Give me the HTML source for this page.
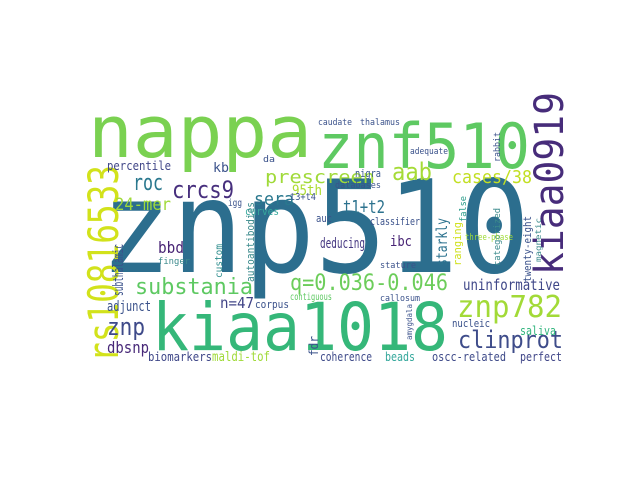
<!DOCTYPE html>
<html><head><meta charset="utf-8"><style>
html,body{margin:0;padding:0;background:#fff;}
svg{display:block;}
text{font-family:"DejaVu Sans Mono","Liberation Mono",monospace;}
</style></head><body>
<svg width="640" height="480" viewBox="0 0 640 480" xmlns="http://www.w3.org/2000/svg">
<rect x="0" y="0" width="640" height="480" fill="#fff"/>
<g id="words"></g>
<script>
// [text, x, y, fontSize, textLength, color, rotated]
const words = [
 ["znp510",100,272,128,430,"#2c6e8e",0],
 ["nappa",88,157,72,224,"#7ad151",0],
 ["znf510",318,168,62,212,"#5ec962",0],
 ["kiaa1018",152,350,66,296,"#35b779",0],
 ["rs10816533",118,362,42,197,"#d2e21b",1],
 ["kiaa0919",563,275,40,183,"#472c7a",1],
 ["znp782",457,317,30,105,"#a2da37",0],
 ["clinprot",458,348,24,105,"#3e4c8a",0],
 ["q=0.036-0.046",290,290,22,158,"#6ccd5a",0],
 ["substania",135,294,22,118,"#5ec962",0],
 ["crcs9",172,198,24,62,"#472f7d",0],
 ["roc",133,190,22,30,"#2a788e",0],
 ["aab",392,180,24,40,"#a5db36",0],
 ["prescreen",265,183,18,110,"#a0da39",0],
 ["sera",254,205,18,40,"#2a788e",0],
 ["95th",292,195,14,30,"#addc30",0],
 ["24-mer",115,210,17,56,"#a0da39",0],
 ["percentile",107,170,12,64,"#404688",0],
 ["kb",213,172,13,16,"#3b528b",0],
 ["cases/38",452,183,18,80,"#c2df23",0],
 ["znp",107,335,24,38,"#3e4a89",0],
 ["dbsnp",107,353,16,42,"#472878",0],
 ["adjunct",107,311,14,44,"#3b528b",0],
 ["n=47",220,308,15,34,"#414487",0],
 ["bbd",158,253,16,26,"#482475",0],
 ["subthalamic",123,296,14,52,"#3b528b",1],
 ["biomarkers",148,361,12,64,"#3f4788",0],
 ["maldi-tof",212,361,13,58,"#a0da39",0],
 ["fdr",318,356,12,20,"#3b528b",1],
 ["coherence",320,361,12,52,"#3e4a89",0],
 ["beads",385,361,12,30,"#35a89c",0],
 ["oscc-related",432,361,12,74,"#3e4a89",0],
 ["perfect",520,361,12,42,"#404688",0],
 ["saliva",520,335,12,36,"#2fb47c",0],
 ["nucleic",452,327,11,38,"#3b528b",0],
 ["callosum",380,301,9,40,"#3b528b",0],
 ["uninformative",463,290,15,97,"#3f4788",0],
 ["deducing",320,248,14,45,"#453781",0],
 ["ibc",390,246,14,22,"#482475",0],
 ["stature",380,268,9,36,"#3b528b",0],
 ["starkly",447,266,15,48,"#2c728e",1],
 ["ranging",461,266,11,44,"#d0e11c",1],
 ["categorized",500,266,9,58,"#3b8a8c",1],
 ["twenty-eight",531,282,11,66,"#3b528b",1],
 ["false",466,222,9,26,"#2c9c8a",1],
 ["magnetic",541,262,8,44,"#3b8a8c",1],
 ["classifier",370,225,11,50,"#3b528b",0],
 ["t1+t2",343,213,18,42,"#2c728e",0],
 ["nigra",355,177,11,26,"#38588c",0],
 ["databases",335,188,9,46,"#3b528b",0],
 ["adequate",410,154,9,38,"#3b528b",0],
 ["thalamus",360,125,9,40,"#3b528b",0],
 ["caudate",318,125,9,34,"#3b528b",0],
 ["rabbit",500,162,9,30,"#3b528b",1],
 ["auc",316,222,11,16,"#3b528b",0],
 ["t3+t4",290,200,10,26,"#3b528b",0],
 ["curves",245,215,11,34,"#35a89c",0],
 ["custom",222,278,10,34,"#2c8c8c",1],
 ["autoantibodies",254,282,11,80,"#3b8a8c",1],
 ["igg",228,206,10,14,"#3b528b",0],
 ["contiguous",290,300,10,42,"#5ec962",0],
 ["corpus",255,308,11,34,"#3b528b",0],
 ["finger",158,264,9,32,"#3b8a8c",0],
 ["three-phase",465,240,9,48,"#a0da39",0],
 ["amygdala",412,340,8,36,"#3b528b",1],
 ["da",263,162,9,12,"#3b528b",0]
];
const g = document.getElementById('words');
const NS = 'http://www.w3.org/2000/svg';
words.forEach(function(w){
  const t = document.createElementNS(NS,'text');
  t.textContent = w[0];
  t.setAttribute('font-size', w[3]);
  t.setAttribute('fill', w[5]);
  t.setAttribute('textLength', w[4]);
  t.setAttribute('lengthAdjust', 'spacingAndGlyphs');
  if (w[6]) {
    t.setAttribute('transform', 'translate(' + w[1] + ',' + w[2] + ') rotate(-90)');
  } else {
    t.setAttribute('x', w[1]);
    t.setAttribute('y', w[2]);
  }
  
  
  g.appendChild(t);
});
</script>
</svg>
</body></html>
